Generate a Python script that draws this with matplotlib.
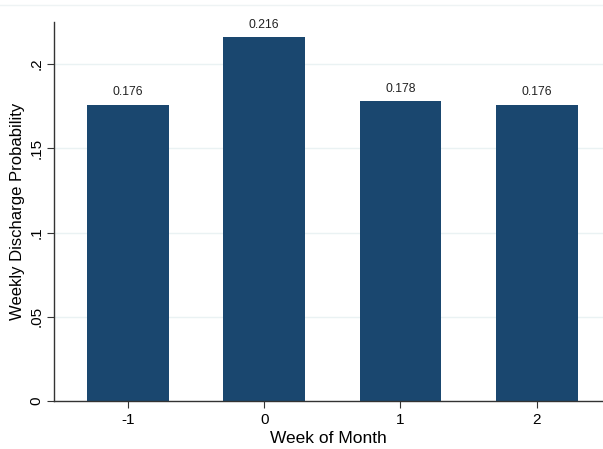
import matplotlib.pyplot as plt

plt.rcParams['font.family'] = ['Liberation Sans', 'DejaVu Sans']

weeks = [-1, 0, 1, 2]
probs = [0.176, 0.216, 0.178, 0.176]
yticks = [0, 0.05, 0.1, 0.15, 0.2]
ytick_labels = ['0', '.05', '.1', '.15', '.2']

fig = plt.figure(figsize=(6.03, 4.49), dpi=100)
ax = fig.add_axes([0.090, 0.107, 0.910, 0.844])

# gridlines behind the bars
ax.set_axisbelow(True)
ax.grid(axis='y', color='#eaf2f3', linewidth=1)

bars = ax.bar(weeks, probs, width=0.6, color='#1a476f')
for b, v in zip(bars, probs):
    ax.annotate(f'{v:.3f}', (b.get_x() + b.get_width() / 2, v),
                xytext=(0, 4.5), textcoords='offset points',
                ha='center', va='bottom', fontsize=8.8, color='#222222')

ax.set_xlim(-1.541, 2.487)
ax.set_ylim(0, 0.225)
ax.set_xticks(weeks)
ax.set_xticklabels([str(w) for w in weeks])
ax.set_yticks(yticks)
ax.set_yticklabels(ytick_labels, rotation=90, va='center')
ax.tick_params(axis='both', labelsize=11, length=5, color='#333333')
ax.tick_params(axis='y', pad=3)

ax.set_xlabel('Week of Month', fontsize=12.5, labelpad=3)
ax.set_ylabel('Weekly Discharge Probability', fontsize=12, labelpad=3)

for s in ['top', 'right']:
    ax.spines[s].set_visible(False)
for s in ['left', 'bottom']:
    ax.spines[s].set_color('#333333')
    ax.spines[s].set_linewidth(1)

# faint outer frame line at the top
fig.add_artist(plt.Line2D([0, 1], [0.989, 0.989], color='#eef3f4', linewidth=1))

fig.savefig('out.png', dpi=100)
